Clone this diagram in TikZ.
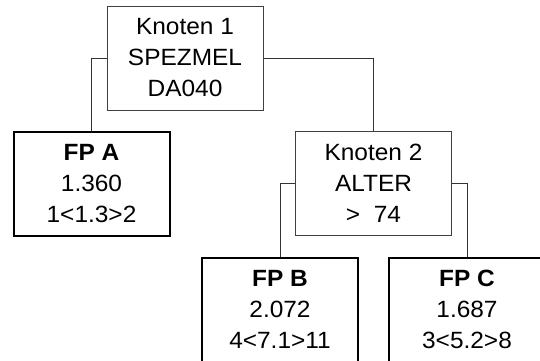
\documentclass[tikz,border=0pt]{standalone}
\usepackage{fontspec}
\setmainfont{Liberation Sans}[FakeStretch=1.04]
\begin{document}
\begin{tikzpicture}[x=1pt,y=-1pt]
\tikzset{
  knoten/.style={draw=black!75, line width=0.8pt, minimum width=156pt, minimum height=104pt, align=center, inner sep=0pt, font=\fontsize{23.5}{31}\selectfont},
  blatt/.style={knoten, draw=black, line width=2pt},
  kante/.style={draw=black!80, line width=0.8pt}
}
\useasboundingbox (0,0) rectangle (540,360);
\node[knoten] (knoten1) at (185,58) {Knoten 1\\ SPEZMEL\\ DA040};
\node[blatt] (fpa) at (91.5,183.5) {\textbf{FP A}\\ 1.360\\ 1<1.3>2};
\node[knoten] (knoten2) at (373.5,183) {Knoten 2\\ ALTER\\ >\ \ 74};
\node[blatt] (fpb) at (280,309.5) {\textbf{FP B}\\ 2.072\\ 4<7.1>11};
\node[blatt] (fpc) at (467,309.5) {\textbf{FP C}\\ 1.687\\ 3<5.2>8};

\draw[kante] (knoten1.west) -| (fpa.north);
\draw[kante] (knoten1.east) -| (knoten2.north);
\draw[kante] (knoten2.west) -| (fpb.north);
\draw[kante] (knoten2.east) -| (fpc.north);
\end{tikzpicture}
\end{document}
